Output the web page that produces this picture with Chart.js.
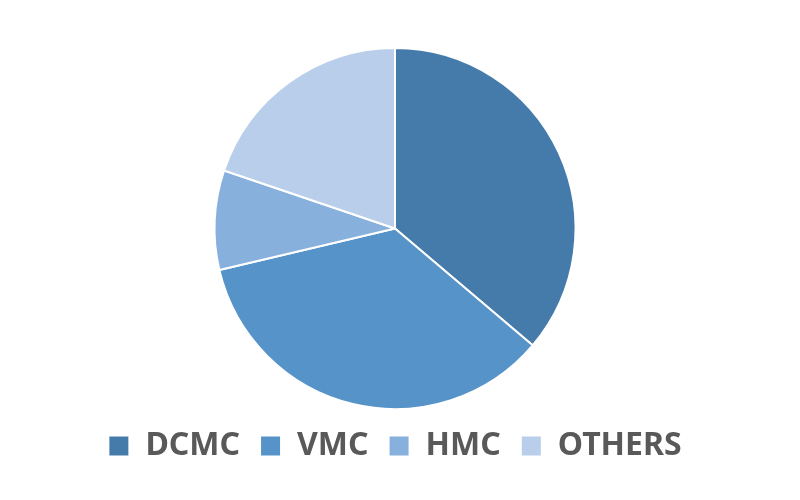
<!DOCTYPE html>
<html>
<head>
<meta charset="utf-8">
<script src="https://cdn.jsdelivr.net/npm/chart.js@4/dist/chart.umd.min.js"></script>
<style>
  html, body { margin: 0; padding: 0; background: #ffffff; }
  #wrap { width: 800px; height: 500px; }
</style>
</head>
<body>
<div id="wrap"><canvas id="shareChart" width="800" height="500"></canvas></div>
<script>
// Market share data
const categories = ['DCMC', 'VMC', 'HMC', 'OTHERS'];
const shares = [36.2, 35.1, 8.9, 19.8];
const sliceColors = ['#447BAB', '#5593C9', '#87B0DD', '#B8CEEA'];

const canvas = document.getElementById('shareChart');
new Chart(canvas, {
    type: 'pie',
    data: {
        labels: categories,
        datasets: [{
            data: shares,
            backgroundColor: sliceColors,
            borderColor: '#ffffff',
            borderWidth: 2
        }]
    },
    options: {
        responsive: false,
        animation: false,
        layout: {
            padding: { top: 47, right: 10, bottom: 28, left: 0 }
        },
        plugins: {
            legend: {
                position: 'bottom',
                labels: {
                    boxWidth: 21,
                    boxHeight: 21,
                    padding: 20,
                    color: '#595959',
                    font: { family: '"Noto Sans", sans-serif', size: 32, weight: 'bold' }
                }
            },
            tooltip: { enabled: false }
        }
    }
});
</script>
</body>
</html>
